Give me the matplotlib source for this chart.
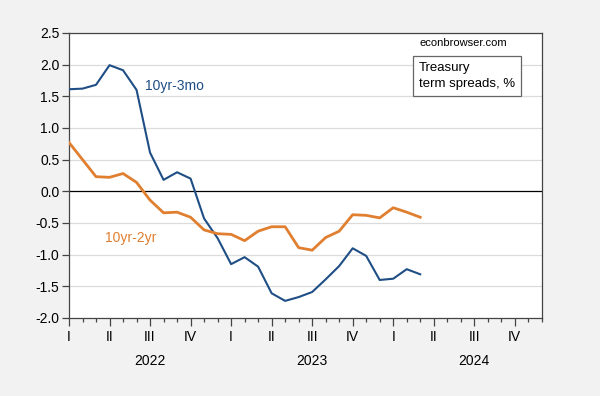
import matplotlib
matplotlib.use("Agg")
import matplotlib.pyplot as plt
import numpy as np
import pandas as pd

plt.rcParams['font.family'] = ['Liberation Sans', 'DejaVu Sans']

# monthly, Jan 2022 - Mar 2024
dates = pd.date_range('2022-01-01', '2024-03-01', freq='MS')
spread_10y3m = [1.61, 1.62, 1.68, 1.99, 1.91, 1.60, 0.61, 0.18, 0.30, 0.20,
                -0.43, -0.74, -1.15, -1.04, -1.19, -1.61, -1.73, -1.67, -1.59,
                -1.39, -1.18, -0.90, -1.02, -1.40, -1.38, -1.23, -1.31]
spread_10y2y = [0.77, 0.50, 0.23, 0.22, 0.28, 0.14, -0.14, -0.34, -0.33, -0.41,
                -0.61, -0.67, -0.68, -0.78, -0.63, -0.56, -0.56, -0.89, -0.93,
                -0.73, -0.63, -0.37, -0.38, -0.42, -0.26, -0.33, -0.41]
quarter_labels = ['I', 'II', 'III', 'IV']
years = [2022, 2023, 2024]

blue = '#1f4e85'
orange = '#e07f30'

fig = plt.figure(figsize=(6.0, 3.96), dpi=100, facecolor='#f2f2f2')
ax = fig.add_axes([0.115, 0.197, 0.788, 0.72])
ax.set_facecolor('white')

# x as month index from Jan 2022
x = (dates.year - 2022) * 12 + (dates.month - 1)

ax.axhline(0, color='black', lw=0.9, zorder=2)
for v in np.arange(-1.5, 2.51, 0.5):
    if abs(v) > 1e-9:
        ax.axhline(v, color='#dcdcdc', lw=0.9, zorder=1)

ax.plot(x, spread_10y3m, color=blue, lw=1.5, zorder=3)
ax.plot(x, spread_10y2y, color=orange, lw=2.0, zorder=3)

ax.set_xlim(0, 35)
ax.set_ylim(-2.0, 2.5)
ax.set_yticks(np.arange(-2.0, 2.51, 0.5))
ax.set_yticklabels([f'{v:.1f}' for v in np.arange(-2.0, 2.51, 0.5)], fontsize=10)

q_pos = np.arange(0, 36, 3)
ax.set_xticks(q_pos)
ax.set_xticklabels(quarter_labels * 3, fontsize=10)
ax.set_xticks(np.arange(0, 36, 1), minor=True)
ax.tick_params(axis='x', which='major', length=6, width=0.9, color='#444444', pad=3)
ax.tick_params(axis='x', which='minor', length=3, width=0.9, color='#444444')
ax.tick_params(axis='y', length=5, width=0.9, color='#444444', pad=2)

for i, yr in enumerate(years):
    ax.text(6 + 12 * i, -0.125, str(yr), transform=ax.get_xaxis_transform(),
            ha='center', va='top', fontsize=10)

for s in ax.spines.values():
    s.set_color('#444444')
    s.set_linewidth(0.9)

ax.text(5.6, 1.6, '10yr-3mo', color=blue, fontsize=10)
ax.text(2.7, -0.8, '10yr-2yr', color=orange, fontsize=10)
ax.text(0.835, 0.965, 'econbrowser.com', transform=ax.transAxes, ha='center',
        va='center', fontsize=8)
ax.text(0.74, 0.85, 'Treasury\nterm spreads, %', transform=ax.transAxes,
        ha='left', va='center', fontsize=9.5, linespacing=1.45,
        bbox=dict(boxstyle='square,pad=0.45', fc='white', ec='#666666', lw=0.9))

fig.savefig('out.png', dpi=100, facecolor=fig.get_facecolor())
